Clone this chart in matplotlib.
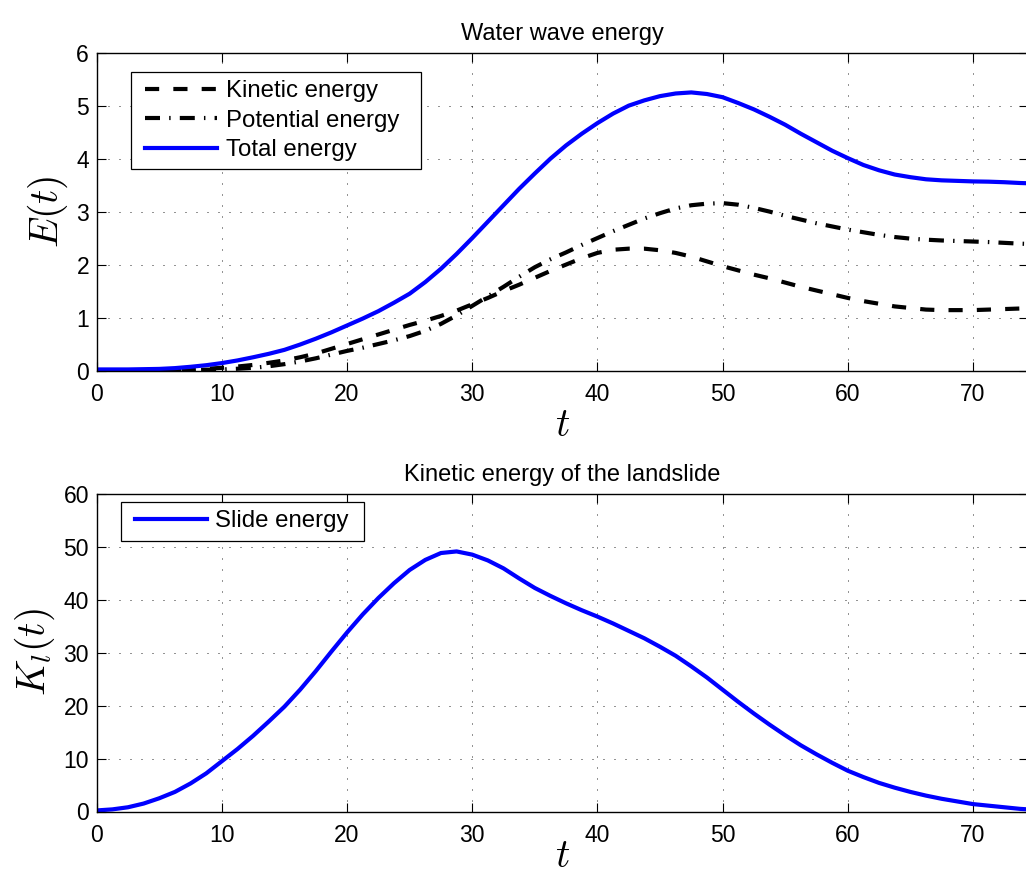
import matplotlib
matplotlib.use("Agg")
import matplotlib.pyplot as plt
from matplotlib.lines import Line2D
from matplotlib.legend_handler import HandlerLine2D

plt.rcParams['font.family'] = ['Liberation Sans', 'DejaVu Sans']
plt.rcParams['mathtext.fontset'] = 'cm'

# ---- data ----
t = [0, 1.25, 2.5, 3.75, 5, 6.25, 7.5, 8.75, 10, 11.25,
     12.5, 13.75, 15, 16.25, 17.5, 18.75, 20, 21.25, 22.5, 23.75,
     25, 26.25, 27.5, 28.75, 30, 31.25, 32.5, 33.75, 35, 36.25,
     37.5, 38.75, 40, 41.25, 42.5, 43.75, 45, 46.25, 47.5, 48.75,
     50, 51.25, 52.5, 53.75, 55, 56.25, 57.5, 58.75, 60, 61.25,
     62.5, 63.75, 65, 66.25, 67.5, 68.75, 70, 71.25, 72.5, 73.75,
     74.4]
kinetic = [0.0, 0.0, 0.003, 0.005, 0.008, 0.013, 0.02, 0.033, 0.05, 0.075,
           0.105, 0.145, 0.19, 0.25, 0.32, 0.41, 0.5, 0.59, 0.68, 0.77,
           0.86, 0.94, 1.03, 1.13, 1.25, 1.37, 1.5, 1.62, 1.75, 1.88,
           2.0, 2.12, 2.22, 2.28, 2.3, 2.3, 2.27, 2.22, 2.15, 2.06,
           1.97, 1.89, 1.81, 1.74, 1.66, 1.58, 1.51, 1.44, 1.37, 1.31,
           1.26, 1.21, 1.18, 1.15, 1.14, 1.14, 1.14, 1.15, 1.16, 1.17,
           1.17]
potential = [0.0, 0.0, 0.002, 0.003, 0.005, 0.007, 0.01, 0.015, 0.02, 0.033,
             0.05, 0.08, 0.12, 0.17, 0.23, 0.3, 0.37, 0.43, 0.5, 0.57,
             0.65, 0.75, 0.88, 1.04, 1.22, 1.4, 1.58, 1.77, 1.95, 2.1,
             2.23, 2.37, 2.5, 2.63, 2.75, 2.87, 2.97, 3.06, 3.12, 3.15,
             3.16, 3.13, 3.07, 3.0, 2.92, 2.85, 2.78, 2.72, 2.66, 2.61,
             2.56, 2.52, 2.49, 2.47, 2.455, 2.445, 2.435, 2.425, 2.41, 2.395,
             2.39]
total = [0.02, 0.02, 0.02, 0.025, 0.03, 0.045, 0.07, 0.1, 0.14, 0.19,
         0.25, 0.315, 0.39, 0.49, 0.6, 0.72, 0.85, 0.98, 1.12, 1.28,
         1.45, 1.67, 1.92, 2.2, 2.5, 2.81, 3.12, 3.43, 3.72, 4.0,
         4.25, 4.47, 4.67, 4.85, 5.0, 5.1, 5.18, 5.23, 5.25, 5.22,
         5.16, 5.05, 4.93, 4.79, 4.64, 4.47, 4.31, 4.15, 4.01, 3.88,
         3.78, 3.7, 3.65, 3.61, 3.59, 3.58, 3.57, 3.565, 3.555, 3.54,
         3.535]
slide = [0.2, 0.4, 0.8, 1.5, 2.5, 3.7, 5.3, 7.2, 9.5, 11.8,
         14.3, 17.0, 19.8, 23.0, 26.5, 30.2, 33.8, 37.2, 40.3, 43.1,
         45.6, 47.5, 48.8, 49.1, 48.5, 47.4, 45.9, 44.0, 42.2, 40.7,
         39.3, 38.0, 36.8, 35.5, 34.1, 32.7, 31.1, 29.4, 27.4, 25.3,
         23.0, 20.7, 18.5, 16.4, 14.4, 12.5, 10.8, 9.2, 7.7, 6.5,
         5.4, 4.5, 3.7, 3.0, 2.4, 1.9, 1.4, 1.1, 0.8, 0.5,
         0.4]

xticks = [0, 10, 20, 30, 40, 50, 60, 70]
yticks_top = [0, 1, 2, 3, 4, 5, 6]
yticks_bot = [0, 10, 20, 30, 40, 50, 60]

title_top = "Water wave energy"
title_bot = "Kinetic energy of the landslide"
labels_top = ["Kinetic energy", "Potential energy", "Total energy"]
label_bot = "Slide energy"

# ---- figure ----
W, H = 1026, 876
fig = plt.figure(figsize=(W / 100, H / 100), dpi=100)

left = 96.7 / W
width = (1028 - 96.7) / W
ax_h = 317.8 / H
ax1 = fig.add_axes([left, 1 - 370.5 / H, width, ax_h])
ax2 = fig.add_axes([left, 1 - 811.5 / H, width, ax_h])

BLUE = (0, 0, 1)
LW = 3.0
TICKFS = 16.5
LEGFS = 17.3
LABFS = 28.5

def style(ax, yticks, ylim):
    ax.set_xlim(0, 74.4)
    ax.set_ylim(*ylim)
    ax.set_xticks(xticks)
    ax.set_yticks(yticks)
    ax.tick_params(direction='in', length=6.7, width=0.8, top=True,
                   right=True, labelsize=TICKFS)
    ax.tick_params(axis='x', pad=9)
    ax.tick_params(axis='y', pad=5.5)
    ax.grid(True, color='black', linewidth=0.6, linestyle=(0, (1.2, 12)))
    for s in ax.spines.values():
        s.set_linewidth(1.0)

# top
l1, = ax1.plot(t, kinetic, color='black', lw=LW, linestyle=(0, (3.4, 3.4)),
               label=labels_top[0])
l2, = ax1.plot(t, potential, color='black', lw=LW,
               linestyle=(0, (3.6, 2.2, 0.35, 2.2)), label=labels_top[1])
l3, = ax1.plot(t, total, color=BLUE, lw=LW, label=labels_top[2])
style(ax1, yticks_top, (0, 6))
ax1.set_title(title_top, fontsize=17, pad=9)
ax1.set_xlabel(r'$t$', fontsize=LABFS, labelpad=0)
ax1.set_ylabel(r'$E(t)$', fontsize=LABFS)
ax1.yaxis.set_label_coords(-0.029, 0.5)

hm = {Line2D: HandlerLine2D(xpad=0.233)}
leg1 = ax1.legend(handles=[l1, l2, l3], loc='upper left',
                  bbox_to_anchor=(0.0368, 0.939, 0.3114, 0), mode='expand',
                  borderaxespad=0, fontsize=LEGFS, fancybox=False,
                  edgecolor='black', framealpha=1, borderpad=0.35,
                  labelspacing=0.3, handlelength=3.23, handletextpad=0.36,
                  handler_map=hm)
leg1.get_frame().set_linewidth(0.9)

# bottom
l4, = ax2.plot(t, slide, color=BLUE, lw=LW, label=label_bot)
style(ax2, yticks_bot, (0, 60))
ax2.set_title(title_bot, fontsize=17, pad=9)
ax2.set_xlabel(r'$t$', fontsize=LABFS, labelpad=-7)
ax2.set_ylabel(r'$K_l(t)$', fontsize=LABFS)
ax2.yaxis.set_label_coords(-0.043, 0.5)
leg2 = ax2.legend(handles=[l4], loc='upper left',
                  bbox_to_anchor=(0.0258, 0.974, 0.2616, 0), mode='expand',
                  borderaxespad=0, fontsize=LEGFS, fancybox=False,
                  edgecolor='black', framealpha=1, borderpad=0.35,
                  labelspacing=0.3, handlelength=3.23, handletextpad=0.36,
                  handler_map=hm)
leg2.get_frame().set_linewidth(0.9)

fig.savefig("out.png", dpi=100)
